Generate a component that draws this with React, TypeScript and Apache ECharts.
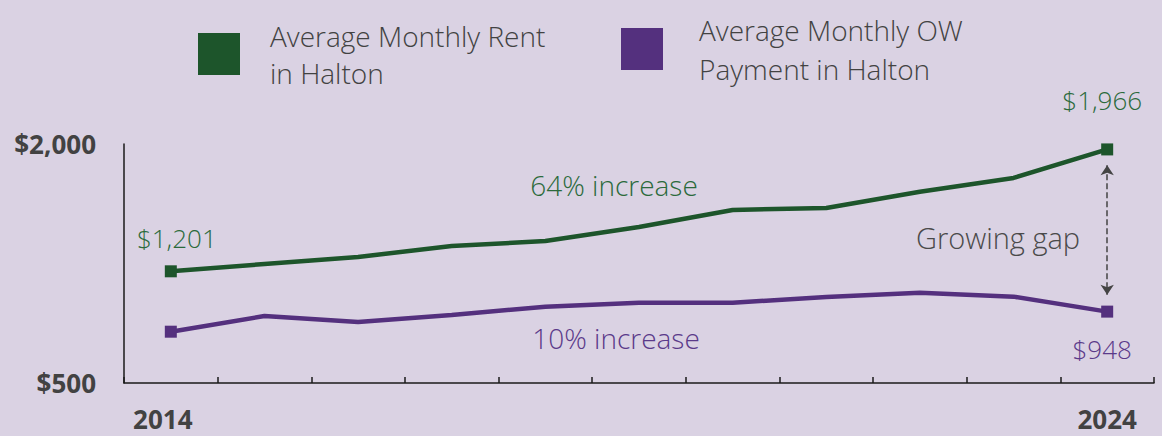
import React, { useEffect, useRef } from "react";
import * as echarts from "echarts";

const years = ["2014", "2015", "2016", "2017", "2018", "2019", "2020", "2021", "2022", "2023", "2024"];
const rent = [1201, 1247, 1291, 1360, 1391, 1479, 1586, 1598, 1700, 1787, 1966];
const owPayment = [822, 920, 883, 927, 979, 1004, 1004, 1040, 1067, 1042, 948];
const yTicks = [500, 2000];

const RENT_NAME = "Average Monthly Rent in Halton";
const OW_NAME = "Average Monthly OW Payment in Halton";
const GREEN = "#1d552b";
const PURPLE = "#54307e";
const BG = "#dad2e3";
const TEXT = "#424242";
const FONT = "'Open Sans', sans-serif";

const fmt = (v: number) => "$" + v.toLocaleString("en-US");

export default function App() {
  const ref = useRef<HTMLDivElement>(null);
  useEffect(() => {
    document.body.style.margin = "0";
    const chart = echarts.init(ref.current!, null, { renderer: "svg" });
    const last = years.length - 1;
    const mkData = (arr: number[], labelPos: "top" | "bottom", showIdx: number[], dist: number[], offs: number[][], color: string) =>
      arr.map((v, i) => {
        const edge = i === 0 || i === last;
        const k = showIdx.indexOf(i);
        return {
          value: v,
          symbol: edge ? "rect" : "none",
          symbolSize: edge ? 12 : 0,
          label: {
            show: k >= 0,
            position: labelPos,
            distance: k >= 0 ? dist[k] : 0,
            offset: k >= 0 ? offs[k] : [0, 0],
            formatter: (p: any) => fmt(p.value),
            color,
            fontFamily: FONT,
            fontWeight: 300,
            fontSize: 26,
          },
        };
      });
    const legendText = { color: TEXT, fontFamily: FONT, fontWeight: 300, fontSize: 28, lineHeight: 37 };
    chart.setOption({
      animation: false,
      backgroundColor: BG,
      grid: { left: 124, right: 8, top: 144, bottom: 53 },
      legend: [
        {
          data: [RENT_NAME],
          left: 198,
          top: 13,
          padding: 0,
          icon: "rect",
          itemWidth: 42,
          itemHeight: 42,
          selectedMode: false,
          formatter: () => "Average Monthly Rent\nin Halton",
          textStyle: { ...legendText, padding: [0, 0, 8, 25] },
        },
        {
          data: [OW_NAME],
          left: 621,
          top: 8,
          padding: 0,
          icon: "rect",
          itemWidth: 42,
          itemHeight: 42,
          selectedMode: false,
          formatter: () => "Average Monthly OW\nPayment in Halton",
          textStyle: { ...legendText, lineHeight: 39, padding: [0, 0, 4, 31] },
        },
      ],
      xAxis: {
        type: "category",
        data: years,
        boundaryGap: true,
        axisLine: { lineStyle: { color: "#1a1a1a", width: 1.5 } },
        axisTick: { show: true, inside: true, length: 6, interval: 0, lineStyle: { color: "#1a1a1a", width: 1.5 } },
        axisLabel: {
          interval: (i: number) => i === 0 || i === last,
          color: TEXT,
          fontFamily: FONT,
          fontWeight: "bold",
          fontSize: 26,
          margin: 23,
          formatter: (v: string, i: number) => (i === 0 ? "{first|" + v + "}" : i === last ? v : ""),
          rich: {
            first: { color: TEXT, fontFamily: FONT, fontWeight: "bold", fontSize: 26, padding: [0, 16, 0, 0] },
          },
        },
        splitLine: { show: false },
      },
      yAxis: {
        type: "value",
        min: yTicks[0],
        max: yTicks[1],
        interval: yTicks[1] - yTicks[0],
        axisLine: { show: true, lineStyle: { color: "#1a1a1a", width: 1.5 } },
        axisTick: { show: false },
        splitLine: { show: false },
        axisLabel: {
          color: TEXT,
          fontFamily: FONT,
          fontWeight: "bold",
          fontSize: 26,
          margin: 28,
          formatter: (v: number) => fmt(v),
        },
      },
      series: [
        {
          name: RENT_NAME,
          type: "line",
          color: GREEN,
          lineStyle: { width: 4.5, color: GREEN },
          itemStyle: { color: GREEN },
          data: mkData(rent, "top", [0, last], [14, 30], [[6, 0], [-5, 0]], "#2b6a3b"),
          markLine: {
            silent: true,
            symbol: ["arrow", "arrow"],
            symbolSize: [10, 10],
            label: { show: false },
            lineStyle: { type: "dashed", color: "#444", width: 1.5 },
            data: [[{ coord: [last, 1866] }, { coord: [last, 1054] }]],
          },
        },
        {
          name: OW_NAME,
          type: "line",
          color: PURPLE,
          lineStyle: { width: 4.5, color: PURPLE },
          itemStyle: { color: PURPLE },
          data: mkData(owPayment, "bottom", [last], [18], [[-5, 0]], "#5a3a8a"),
        },
      ],
      graphic: [
        {
          type: "text",
          x: 614,
          y: 185,
          style: { text: "64% increase", fill: "#2b6a3b", font: `300 28px ${FONT}`, align: "center", verticalAlign: "middle" },
        },
        {
          type: "text",
          x: 616,
          y: 338,
          style: { text: "10% increase", fill: "#5a3a8a", font: `300 28px ${FONT}`, align: "center", verticalAlign: "middle" },
        },
        {
          type: "text",
          x: 998,
          y: 237,
          style: { text: "Growing gap", fill: "#4a4a4a", font: `300 29px ${FONT}`, align: "center", verticalAlign: "middle" },
        },
      ],
    });
    return () => chart.dispose();
  }, []);
  return <div ref={ref} style={{ width: 1162, height: 436 }} />;
}
